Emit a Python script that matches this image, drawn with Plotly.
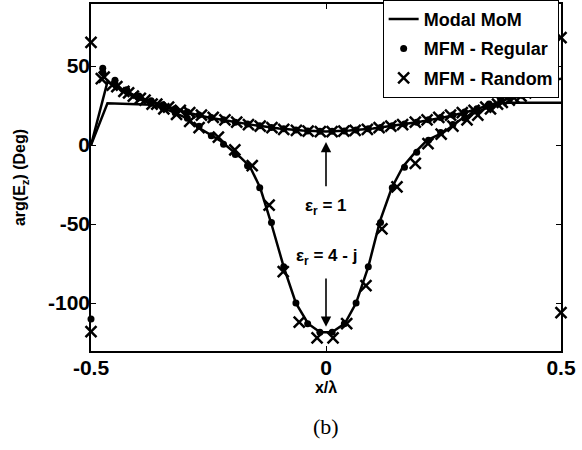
import plotly.graph_objects as go

# ---------------- data ----------------
# Modal MoM, eps_r = 1
mom1_x = [-0.5, -0.465, -0.44, -0.4, -0.35, -0.3, -0.25, -0.2, -0.15, -0.1, -0.05, 0.0,
          0.05, 0.1, 0.15, 0.2, 0.25, 0.3, 0.35, 0.4, 0.44, 0.465, 0.5]
mom1_y = [0, 40, 36, 30.5, 25.5, 21, 17.5, 14.8, 12.5, 10.5, 9.2, 8.6,
          9.2, 10.5, 12.5, 14.8, 17.5, 21, 25.5, 30.5, 36, 40, 42]

# Modal MoM, eps_r = 4 - j
mom2_x = [-0.5, -0.465, -0.37, -0.33, -0.3, -0.268, -0.226, -0.183, -0.162, -0.14, -0.117,
          -0.09, -0.064, -0.038, -0.0125, 0.0125, 0.04, 0.064, 0.09, 0.115, 0.14, 0.164,
          0.19, 0.215, 0.25, 0.29, 0.33, 0.365, 0.39, 0.5]
mom2_y = [0, 26.5, 25.5, 21.5, 17.5, 10.5, 3, -7.5, -13.5, -27, -49,
          -77, -100, -113, -118.5, -118.5, -113, -100, -77, -48, -27, -13.5,
          -4.5, 3, 8, 17, 22, 26.5, 26.8, 26.8]

# MFM - Regular (dots)
reg_x = [-0.475, -0.449, -0.424, -0.398, -0.372, -0.347, -0.321, -0.295, -0.270, -0.244,
         -0.218, -0.193, -0.167, -0.141, -0.116, -0.090, -0.064, -0.039, -0.013, 0.013,
         0.039, 0.064, 0.090, 0.116, 0.141, 0.167, 0.193, 0.218, 0.244, 0.270,
         0.295, 0.321, 0.347, 0.372, 0.398, 0.424, 0.449, 0.475]
reg1_y = [48.7, 41, 35, 31, 28, 25.5, 23, 21, 19, 17.5,
          16, 14.5, 13.3, 12.2, 11.2, 10.3, 9.6, 9.0, 8.7, 8.7,
          9.0, 9.6, 10.3, 11.2, 12.2, 13.3, 14.5, 16, 17.5, 19,
          21, 23, 25.5, 28, 31, 35, 41, 48]
reg2_y = [46, 39, 34, 30, 26.5, 23.5, 20.5, 17, 12, 6,
          0.5, -6, -13, -27, -49, -77, -100, -113, -118.5, -118.5,
          -113, -100, -77, -49, -27, -14, -4.5, 3, 8, 13,
          17, 22, 26, 29, 32, 35, 39, 46]
reg_edge_x = [-0.5]
reg_edge_y = [-110]

# MFM - Random (crosses)
rnd1_x = [-0.5, -0.478, -0.455, -0.43, -0.41, -0.385, -0.36, -0.335, -0.31, -0.29,
          -0.265, -0.24, -0.215, -0.19, -0.165, -0.14, -0.115, -0.09, -0.063, -0.038,
          -0.012, 0.013, 0.038, 0.062, 0.088, 0.113, 0.138, 0.163, 0.19, 0.215,
          0.24, 0.265, 0.29, 0.315, 0.34, 0.365, 0.39, 0.415, 0.44, 0.465, 0.5]
rnd1_y = [65, 42, 38, 34, 31, 28.5, 26, 24, 22, 20.5,
          19, 17.5, 16, 14.5, 13, 12, 11, 10, 9.3, 8.8,
          8.5, 8.5, 8.8, 9.3, 10, 11, 12, 13, 14.5, 16,
          17.5, 19, 20.5, 22, 24, 26, 28.5, 31, 34, 38, 68]
rnd2_x = [-0.5, -0.472, -0.445, -0.42, -0.395, -0.37, -0.345, -0.318, -0.29, -0.27,
          -0.229, -0.194, -0.157, -0.121, -0.091, -0.057, -0.019, 0.015, 0.044, 0.085,
          0.119, 0.151, 0.19, 0.217, 0.245, 0.27, 0.3, 0.323, 0.35, 0.375,
          0.4, 0.425, 0.45, 0.475, 0.5]
rnd2_y = [-118, 43, 37, 33, 29.5, 26, 23, 19.5, 15, 11,
          5, -3, -13, -38, -80, -112, -122, -122, -113, -89,
          -53, -26.5, -11.6, 1, 7, 12, 16, 19, 23, 27,
          30, 33, 36, 42, -106]

x_ticks = [-0.5, 0, 0.5]
x_tick_text = ["-0.5", "0", "0.5"]
y_ticks = [-100, -50, 0, 50]
y_tick_text = ["-100", "-50", "0", "50"]

# ---------------- figure ----------------
FONT = "Liberation Sans, Arial, Helvetica, sans-serif"
fig = go.Figure()

line_style = dict(color="black", width=2.5)
fig.add_trace(go.Scatter(x=mom1_x, y=mom1_y, mode="lines", line=line_style,
                         name="Modal MoM", legendgroup="mom", showlegend=True, cliponaxis=False))
fig.add_trace(go.Scatter(x=mom2_x, y=mom2_y, mode="lines", line=line_style,
                         name="Modal MoM", legendgroup="mom", showlegend=False, cliponaxis=False))

dot = dict(symbol="circle", size=7, color="black")
fig.add_trace(go.Scatter(x=reg_x, y=reg1_y, mode="markers", marker=dot,
                         name="MFM - Regular", legendgroup="reg", showlegend=True, cliponaxis=False))
fig.add_trace(go.Scatter(x=reg_x, y=reg2_y, mode="markers", marker=dot,
                         name="MFM - Regular", legendgroup="reg", showlegend=False, cliponaxis=False))
fig.add_trace(go.Scatter(x=reg_edge_x, y=reg_edge_y, mode="markers", marker=dot,
                         name="MFM - Regular", legendgroup="reg", showlegend=False, cliponaxis=False))

cross = dict(symbol="x-thin", size=11, color="black", line=dict(color="black", width=2.5))
fig.add_trace(go.Scatter(x=rnd1_x, y=rnd1_y, mode="markers", marker=cross,
                         name="MFM - Random", legendgroup="rnd", showlegend=True, cliponaxis=False))
fig.add_trace(go.Scatter(x=rnd2_x, y=rnd2_y, mode="markers", marker=cross,
                         name="MFM - Random", legendgroup="rnd", showlegend=False, cliponaxis=False))

ann_font = dict(family=FONT, size=17, color="black", weight="bold")
fig.add_annotation(x=0, y=2, ax=0, ay=-27, xref="x", yref="y", axref="x", ayref="y",
                   text="", showarrow=True, arrowhead=2, arrowsize=1.3, arrowwidth=1.6,
                   arrowcolor="black")
fig.add_annotation(x=0, y=-39, xref="x", yref="y", text="ε<sub>r</sub> = 1",
                   showarrow=False, font=ann_font)
fig.add_annotation(x=0, y=-115, ax=0, ay=-83.5, xref="x", yref="y", axref="x", ayref="y",
                   text="", showarrow=True, arrowhead=2, arrowsize=1.3, arrowwidth=1.6,
                   arrowcolor="black")
fig.add_annotation(x=0, y=-71, xref="x", yref="y", text="ε<sub>r</sub> = 4 - j",
                   showarrow=False, font=ann_font)
fig.add_annotation(x=0.5, y=-0.219, xref="paper", yref="paper", text="(b)",
                   showarrow=False, yanchor="middle",
                   font=dict(family="Liberation Serif, Times New Roman, serif", size=22, color="black"))

axis_common = dict(showline=True, linecolor="black", linewidth=1.5, mirror="ticks",
                   ticks="inside", ticklen=5, tickwidth=1, tickcolor="black",
                   showgrid=False, zeroline=False, automargin=False,
                   tickfont=dict(family=FONT, size=21, color="black", weight="bold"))

fig.update_layout(
    width=582, height=450,
    margin=dict(l=91, r=21, t=4, b=99, autoexpand=False),
    paper_bgcolor="white", plot_bgcolor="white",
    xaxis=dict(range=[-0.5, 0.5], tickvals=x_ticks, ticktext=x_tick_text,
               ticklabelstandoff=-3,
               title=dict(text="x/λ", standoff=4,
                          font=dict(family=FONT, size=16, color="black", weight="bold")),
               **axis_common),
    yaxis=dict(range=[-130.3, 89.3], tickvals=y_ticks, ticktext=y_tick_text,
               ticklabelstandoff=-5,
               title=dict(text="arg(E<sub>z</sub>) (Deg)", standoff=18,
                          font=dict(family=FONT, size=16, color="black", weight="bold")),
               **axis_common),
    legend=dict(x=0.995, y=1.012, xanchor="right", yanchor="top",
                bgcolor="white", bordercolor="black", borderwidth=1,
                font=dict(family=FONT, size=18, color="black", weight="bold"),
                tracegroupgap=3, itemwidth=30),
    showlegend=True,
)

fig.write_html("out.html", config={"displayModeBar": False},
               post_script="document.body.style.margin='0';document.body.style.overflow='hidden';")
